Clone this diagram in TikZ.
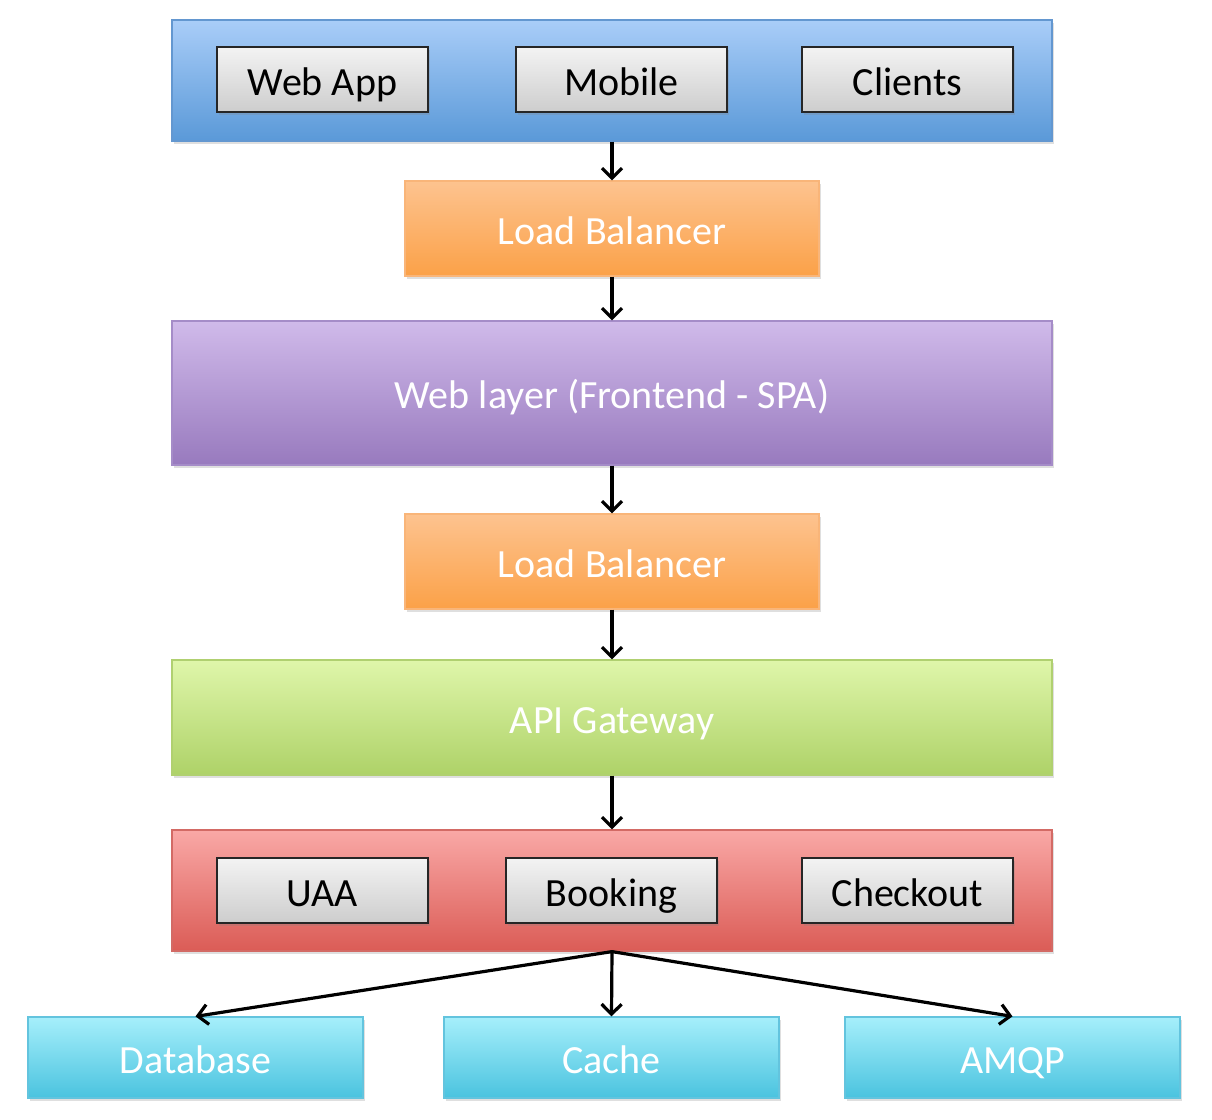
\documentclass[tikz,border=0pt]{standalone}
\usepackage{fontspec}
\setmainfont{Carlito}
\usetikzlibrary{shadows,arrows.meta}

%layer colours: Top, Bot(tom), Line
\definecolor{blueTop}{HTML}{A9CDF8}
\definecolor{blueBot}{HTML}{5A99D8}
\definecolor{blueLine}{HTML}{6397D0}
\definecolor{orangeTop}{HTML}{FDC38F}
\definecolor{orangeBot}{HTML}{FBA148}
\definecolor{orangeLine}{HTML}{F9B579}
\definecolor{purpleTop}{HTML}{D0BAEA}
\definecolor{purpleBot}{HTML}{987ABE}
\definecolor{purpleLine}{HTML}{A58CC8}
\definecolor{greenTop}{HTML}{DFF6AA}
\definecolor{greenBot}{HTML}{AED268}
\definecolor{greenLine}{HTML}{B0D070}
\definecolor{redTop}{HTML}{F9A8A6}
\definecolor{redBot}{HTML}{DB5C56}
\definecolor{redLine}{HTML}{D36A65}
\definecolor{cyanTop}{HTML}{A6EFFB}
\definecolor{cyanBot}{HTML}{4AC3DF}
\definecolor{cyanLine}{HTML}{63C4DE}
\definecolor{grayTop}{HTML}{F3F3F3}
\definecolor{grayBot}{HTML}{CDCDCD}

\tikzset{
	layer/.style={draw=#1Line, line width=0.6pt, top color=#1Top, bottom color=#1Bot,
		text=white, inner sep=0pt, text height=16pt, text depth=0.5pt,
		drop shadow={shadow xshift=1pt, shadow yshift=-1.5pt, opacity=0.25}},
	graybox/.style={draw=black!85, line width=1pt, top color=grayTop, bottom color=grayBot,
		text=black, inner sep=0pt, text height=16pt, text depth=0.5pt,
		minimum width=105.5pt, minimum height=32.5pt,
		drop shadow={shadow xshift=1pt, shadow yshift=-1.5pt, opacity=0.25}},
	flow/.style={line width=1.6pt, -{Straight Barb[length=5pt,width=10pt]}}
}

\begin{document}
\begin{tikzpicture}[x=0.5pt, y=-0.5pt, font=\fontsize{20}{24}\selectfont]
	\useasboundingbox (0,0) rectangle (1212,1120);
	\def\wide{440pt}	%width of the full layers
	\def\lb{207pt}		%width of the load balancers

	%clients layer
	\node[layer=blue, minimum width=\wide, minimum height=60.5pt] (devices) at (612,80.5) {};
	\foreach \x/\name/\txt in {322.5/webapp/Web App, 621.5/mobile/Mobile, 907.5/clients/Clients}
		\node[graybox] (\name) at (\x,79.5) {\txt};

	\node[layer=orange, minimum width=\lb, minimum height=47.5pt] (lbone) at (612,228.5) {Load Balancer};
	\node[layer=purple, minimum width=\wide, minimum height=72pt] (weblayer) at (612,393) {Web layer (Frontend - SPA)};
	\node[layer=orange, minimum width=\lb, minimum height=47.5pt] (lbtwo) at (612,561.5) {Load Balancer};
	\node[layer=green, minimum width=\wide, minimum height=57.5pt] (gateway) at (612,717.5) {API Gateway};

	%services layer
	\node[layer=red, minimum width=\wide, minimum height=60.5pt] (services) at (612,890.5) {};
	\foreach \x/\name/\txt in {322.5/uaa/UAA, 611.5/booking/Booking, 907.5/checkout/Checkout}
		\node[graybox] (\name) at (\x,890.5) {\txt};

	%backing stores
	\foreach \x/\name/\txt in {195.5/database/Database, 611.5/cache/Cache, 1012.5/amqp/AMQP}
		\node[layer=cyan, minimum width=167.5pt, minimum height=40.5pt] (\name) at (\x,1057.5) {\txt};

	\draw[flow] (devices) -- (lbone);
	\draw[flow] (lbone) -- (weblayer);
	\draw[flow] (weblayer) -- (lbtwo);
	\draw[flow] (lbtwo) -- (gateway);
	\draw[flow] (gateway) -- (services);
	\foreach \name in {database, cache, amqp}
		\draw[flow] (services.south) -- (\name.north);
\end{tikzpicture}
\end{document}
